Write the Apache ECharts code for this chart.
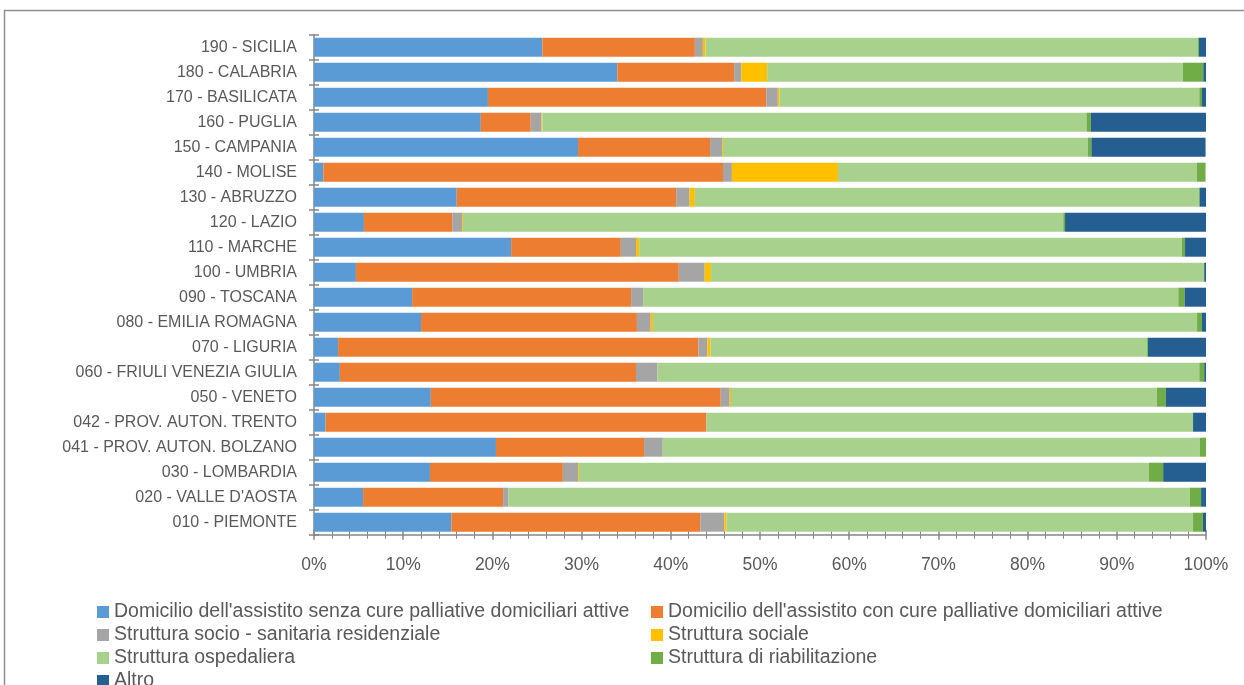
<!DOCTYPE html>
<html>
<head>
<meta charset="utf-8">
<script src="https://cdn.jsdelivr.net/npm/echarts@6/dist/echarts.min.js"></script>
<style>
  html, body { margin: 0; padding: 0; background: #fff; }
  #chart { width: 1244px; height: 685px; }
</style>
</head>
<body>
<div id="chart"></div>
<script>
// Regioni (dal basso verso l'alto)
const regioni = [
  '010 - PIEMONTE', "020 - VALLE D'AOSTA", '030 - LOMBARDIA', '041 - PROV. AUTON. BOLZANO',
  '042 - PROV. AUTON. TRENTO', '050 - VENETO', '060 - FRIULI VENEZIA GIULIA', '070 - LIGURIA',
  '080 - EMILIA ROMAGNA', '090 - TOSCANA', '100 - UMBRIA', '110 - MARCHE', '120 - LAZIO',
  '130 - ABRUZZO', '140 - MOLISE', '150 - CAMPANIA', '160 - PUGLIA', '170 - BASILICATA',
  '180 - CALABRIA', '190 - SICILIA'
];

const nomiSerie = [
  "Domicilio dell'assistito senza cure palliative domiciliari attive",
  "Domicilio dell'assistito con cure palliative domiciliari attive",
  'Struttura socio - sanitaria residenziale',
  'Struttura sociale',
  'Struttura ospedaliera',
  'Struttura di riabilitazione',
  'Altro'
];

const coloriSerie = ['#5B9BD5', '#ED7D31', '#A5A5A5', '#FFC000', '#A9D18E', '#70AD47', '#255E91'];

// Quote percentuali per luogo del decesso, stesso ordine delle regioni
const domicilioSenzaCP = [15.4, 5.5, 13.0, 20.4, 1.3, 13.1, 2.9, 2.7, 12.0, 11.0, 4.7, 22.1, 5.6, 16.0, 1.05, 29.6, 18.7, 19.5, 34.0, 25.6];
const domicilioConCP   = [27.9, 15.7, 14.9, 16.6, 42.7, 32.5, 33.2, 40.4, 24.2, 24.55, 36.2, 12.3, 9.9, 24.6, 44.8, 14.8, 5.6, 31.2, 13.1, 17.1];
const socioSanitaria   = [2.7, 0.6, 1.7, 2.1, 0.0, 1.0, 2.4, 1.0, 1.55, 1.35, 2.9, 1.7, 1.1, 1.5, 1.0, 1.35, 1.2, 1.3, 0.8, 0.9];
const sociale          = [0.25, 0.0, 0.1, 0.0, 0.0, 0.15, 0.0, 0.35, 0.25, 0.0, 0.7, 0.35, 0.1, 0.6, 11.9, 0.1, 0.1, 0.2, 2.9, 0.3];
const ospedaliera      = [52.3, 76.4, 63.9, 60.2, 54.55, 47.75, 60.75, 48.95, 61.0, 60.0, 55.3, 60.85, 67.3, 56.5, 40.2, 40.9, 61.0, 47.05, 46.6, 55.2];
const riabilitazione   = [1.1, 1.25, 1.6, 0.7, 0.0, 1.0, 0.55, 0.1, 0.55, 0.7, 0.0, 0.35, 0.2, 0.1, 1.0, 0.4, 0.5, 0.3, 2.3, 0.1];
const altro            = [0.35, 0.55, 4.8, 0.0, 1.45, 4.5, 0.2, 6.5, 0.45, 2.4, 0.2, 2.35, 15.8, 0.7, 0.0, 12.8, 13.0, 0.45, 0.3, 0.8];

const valoriSerie = [domicilioSenzaCP, domicilioConCP, socioSanitaria, sociale, ospedaliera, riabilitazione, altro];

const testo = '#595959';
const assi = '#868686';
const font = 'Liberation Sans';

const chart = echarts.init(document.getElementById('chart'), null, { renderer: 'canvas' });

const series = nomiSerie.map((nome, i) => ({
  name: nome,
  type: 'bar',
  stack: 'totale',
  barWidth: 19,
  itemStyle: { color: coloriSerie[i] },
  emphasis: { disabled: true },
  data: valoriSerie[i]
}));

// Legenda su due colonne
function legenda(nomi, left) {
  return {
    data: nomi,
    orient: 'vertical', left: left, top: 600.5, height: 200,
    padding: 0,
    itemWidth: 12, itemHeight: 12, itemGap: 0,
    icon: 'rect',
    textStyle: { color: testo, fontSize: 19.5, fontFamily: font, lineHeight: 23 },
    selectedMode: false
  };
}

chart.setOption({
  animation: false,
  textStyle: { fontFamily: font },
  graphic: [{
    type: 'rect',
    shape: { x: 4.5, y: 10.5, width: 1400, height: 1000 },
    style: { fill: null, stroke: '#8f8f8f', lineWidth: 1.5 },
    silent: true,
    z: -10
  }],
  grid: { left: 314, right: 38, top: 34.7, bottom: 150.3, containLabel: false },
  legend: [
    legenda([nomiSerie[0], nomiSerie[2], nomiSerie[4], nomiSerie[6]], 97),
    legenda([nomiSerie[1], nomiSerie[3], nomiSerie[5]], 651)
  ],
  xAxis: [
    {
      type: 'value', min: 0, max: 100, interval: 10,
      position: 'bottom',
      axisLine: { show: true, lineStyle: { color: assi, width: 1.5 } },
      axisTick: { show: true, length: 5, lineStyle: { color: assi, width: 1.5 } },
      minorTick: { show: true, splitNumber: 5, length: 4, lineStyle: { color: assi, width: 1 } },
      axisLabel: { color: testo, fontSize: 17.5, margin: 21, formatter: '{value}%' },
      splitLine: { show: false }
    },
    {
      type: 'value', min: 0, max: 100, interval: 10,
      position: 'bottom',
      axisLine: { show: false },
      axisTick: { show: true, inside: true, length: 5, lineStyle: { color: assi, width: 1.5 } },
      minorTick: { show: true, splitNumber: 5, length: 4, lineStyle: { color: assi, width: 1 } },
      axisLabel: { show: false },
      splitLine: { show: false }
    }
  ],
  yAxis: [
    {
      type: 'category', data: regioni,
      axisLine: { show: true, lineStyle: { color: assi, width: 1.5 } },
      axisTick: { show: true, length: 5, lineStyle: { color: assi, width: 1.5 } },
      axisLabel: { color: testo, fontSize: 16, margin: 17 }
    },
    {
      type: 'category', data: regioni, position: 'left',
      axisLine: { show: false },
      axisTick: { show: true, inside: true, length: 5, lineStyle: { color: assi, width: 1.5 } },
      axisLabel: { show: false }
    }
  ],
  series: series
});
</script>
</body>
</html>
